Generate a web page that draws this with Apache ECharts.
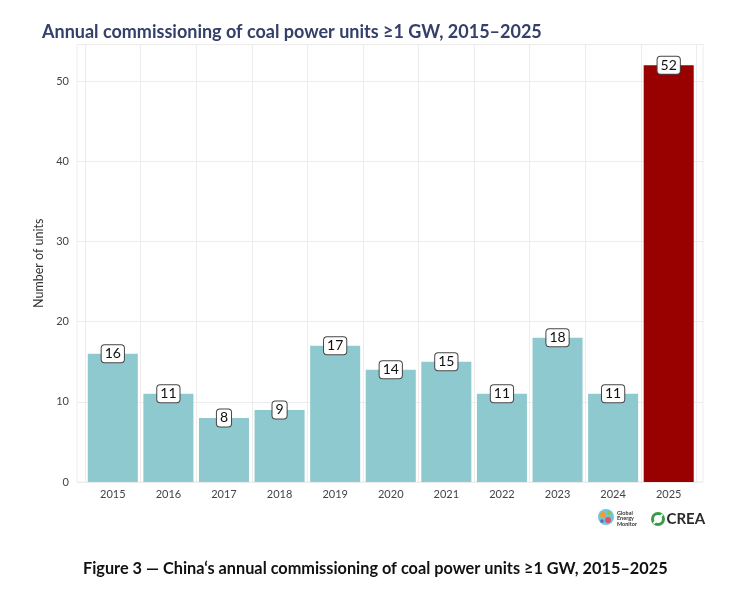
<!DOCTYPE html>
<html><head><meta charset="utf-8">
<script src="https://cdn.jsdelivr.net/npm/echarts@6/dist/echarts.min.js"></script>
<style>html,body{margin:0;padding:0;background:#fff;}#c{width:755px;height:591px;}</style>
</head><body><div id="c"></div>
<script>
const years = ['2015','2016','2017','2018','2019','2020','2021','2022','2023','2024','2025'];
const units = [16, 11, 8, 9, 17, 14, 15, 11, 18, 11, 52];
const yTicks = [0, 10, 20, 30, 40, 50];
const highlightYear = '2025';

const chart = echarts.init(document.getElementById('c'));
const gridLine = '#ececec';
const font = 'Lato, "Open Sans", sans-serif';
chart.setOption({
  animation: false,
  backgroundColor: '#fff',
  title: [{
    text: 'Annual commissioning of coal power units ≥1 GW, 2015–2025',
    left: 37, top: 18,
    textStyle: {fontFamily: font, fontSize: 18, fontWeight: 'bold', color: '#34406a'}
  }, {
    text: 'Figure 3 — China‘s annual commissioning of coal power units ≥1 GW, 2015–2025',
    left: 78, top: 556,
    textStyle: {fontFamily: font, fontSize: 16.3, fontWeight: 'bold', color: '#111'}
  }],
  grid: [
    {left: 77, right: 52, top: 44.5, bottom: 109, show: true, borderColor: gridLine, borderWidth: 1},
    {left: 85, right: 58.5, top: 44.5, bottom: 109}
  ],
  xAxis: [
    {gridIndex: 0, type: 'value', min: 0, max: 1, show: false},
    {gridIndex: 1, type: 'category', data: years,
      axisLine: {show: false}, axisTick: {show: false},
      axisLabel: {margin: 7, fontFamily: font, fontSize: 11, color: '#444'},
      splitLine: {show: true, lineStyle: {color: gridLine, width: 1}}}
  ],
  yAxis: [
    {gridIndex: 0, type: 'value', min: 0, max: 54.6, interval: 10,
      axisLine: {show: false}, axisTick: {show: false},
      axisLabel: {margin: 8, fontFamily: font, fontSize: 11, color: '#444',
        customValues: yTicks},
      splitLine: {show: true, lineStyle: {color: gridLine, width: 1}},
      name: 'Number of units', nameLocation: 'middle', nameGap: 29,
      nameTextStyle: {fontFamily: font, fontSize: 12.5, color: '#333'}},
    {gridIndex: 1, type: 'value', min: 0, max: 54.6, show: false}
  ],
  series: [{
    type: 'bar', xAxisIndex: 1, yAxisIndex: 1,
    barCategoryGap: '10%',
    data: units.map((v, i) => ({value: v, itemStyle: {color: years[i] === highlightYear ? '#990000' : '#8ec9d0'}})),
    label: {
      show: true, position: ['50%', 0], align: 'center', verticalAlign: 'middle',
      fontFamily: font, fontSize: 14, color: '#111',
      backgroundColor: '#fff', borderColor: '#444', borderWidth: 1, borderRadius: 3,
      padding: [2, 3, 1, 3]
    }
  }],
  graphic: [
    {type: 'group', left: 598, top: 509, children: [
      {type: 'circle', shape: {cx: 8, cy: 8, r: 8}, style: {fill: '#6cc7e0'}},
      {type: 'circle', shape: {cx: 5, cy: 6, r: 3}, style: {fill: '#f39c34'}},
      {type: 'circle', shape: {cx: 10, cy: 11, r: 3}, style: {fill: '#e94f64'}},
      {type: 'circle', shape: {cx: 11, cy: 4, r: 2}, style: {fill: '#8cc63f'}},
      {type: 'circle', shape: {cx: 4, cy: 12, r: 1.8}, style: {fill: '#7b5ea7'}},
      {type: 'text', x: 19, y: 1, style: {text: 'Global\nEnergy\nMonitor', fontFamily: font, fontSize: 5.5, fontWeight: 'bold', fill: '#333', lineHeight: 5.5}}
    ]},
    {type: 'group', left: 650, top: 511, children: [
      {type: 'circle', shape: {cx: 6.5, cy: 6.5, r: 5.5}, style: {fill: 'none', stroke: '#3a9a45', lineWidth: 3}},
      {type: 'line', shape: {x1: 2, y1: 11, x2: 11, y2: 2}, style: {stroke: '#fff', lineWidth: 2}},
      {type: 'text', x: 15, y: -1, style: {text: 'CREA', fontFamily: font, fontSize: 15, fontWeight: 'bold', fill: '#2b2b2b'}}
    ]}
  ]
});
</script></body></html>
